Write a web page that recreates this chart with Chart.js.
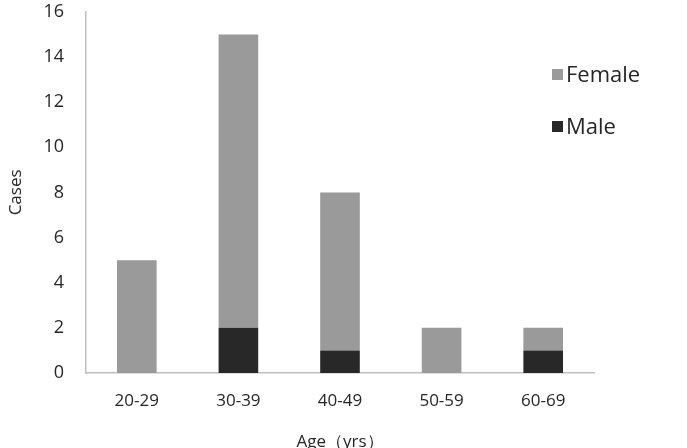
<!DOCTYPE html>
<html>
<head>
<meta charset="utf-8">
<script src="https://cdn.jsdelivr.net/npm/chart.js@4"></script>
<style>
  html, body { margin: 0; padding: 0; background: #fff; }
  #wrap { position: relative; width: 687px; height: 448px; overflow: hidden; }
  /* chart.js keeps ~21px of extra room above the plot, so the canvas is taller and pulled up */
  #chart { display: block; margin-top: -21px; }
  #legend { position: absolute; left: 552px; top: 58px; font-family: "Open Sans", sans-serif; font-size: 22px; color: #262626; }
  #legend div { height: 52px; display: flex; align-items: flex-start; }
  #legend span.box { display: inline-block; width: 11px; height: 11px; margin: 11px 3px 0 0; }
</style>
</head>
<body>
<div id="wrap">
  <canvas id="chart" width="687" height="469"></canvas>
  <div id="legend"></div>
</div>
<script>
// data
const ageGroups = ['20-29', '30-39', '40-49', '50-59', '60-69'];
const maleCases = [0, 2, 1, 0, 1];
const femaleCases = [5, 13, 7, 2, 1];
const yTicks = [0, 2, 4, 6, 8, 10, 12, 14, 16];

const femaleColor = '#9a9a9a';
const maleColor = '#282828';
const axisColor = '#bfbfbf';
const textColor = '#262626';
const font = { family: '"Open Sans", sans-serif', size: 17 };

// legend sits inside the plot, like the original
document.getElementById('legend').innerHTML =
    '<div><span class="box" style="background:' + femaleColor + '"></span>Female</div>' +
    '<div><span class="box" style="background:' + maleColor + '"></span>Male</div>';

const ctx = document.getElementById('chart').getContext('2d');
new Chart(ctx, {
    type: 'bar',
    data: {
        labels: ageGroups,
        datasets: [
            { label: 'Male', data: maleCases, backgroundColor: maleColor },
            { label: 'Female', data: femaleCases, backgroundColor: femaleColor }
        ]
    },
    options: {
        responsive: false,
        animation: false,
        layout: { autoPadding: false, padding: { top: 12, right: 93 } },
        categoryPercentage: 1,
        barPercentage: 0.39,
        plugins: {
            legend: { display: false },
            tooltip: { enabled: false }
        },
        scales: {
            x: {
                stacked: true,
                grid: { display: false, drawTicks: false },
                border: { color: axisColor, width: 1.5 },
                ticks: { color: textColor, font: font, padding: 18 },
                title: { display: true, text: 'Age（yrs）', color: textColor, font: font, padding: { top: 20, bottom: -4 } },
                afterFit: (scale) => { scale.height = 75; }
            },
            y: {
                stacked: true,
                min: 0,
                max: 16,
                grid: { display: false, drawTicks: false },
                border: { color: axisColor, width: 1.5 },
                afterBuildTicks: (scale) => { scale.ticks = yTicks.map(v => ({ value: v })); },
                ticks: { color: textColor, font: { family: font.family, size: 18 }, padding: 22 },
                title: { display: true, text: 'Cases', color: textColor, font: font, padding: { top: 6, bottom: 0 } },
                afterFit: (scale) => { scale.width = 86; }
            }
        }
    }
});
</script>
</body>
</html>
